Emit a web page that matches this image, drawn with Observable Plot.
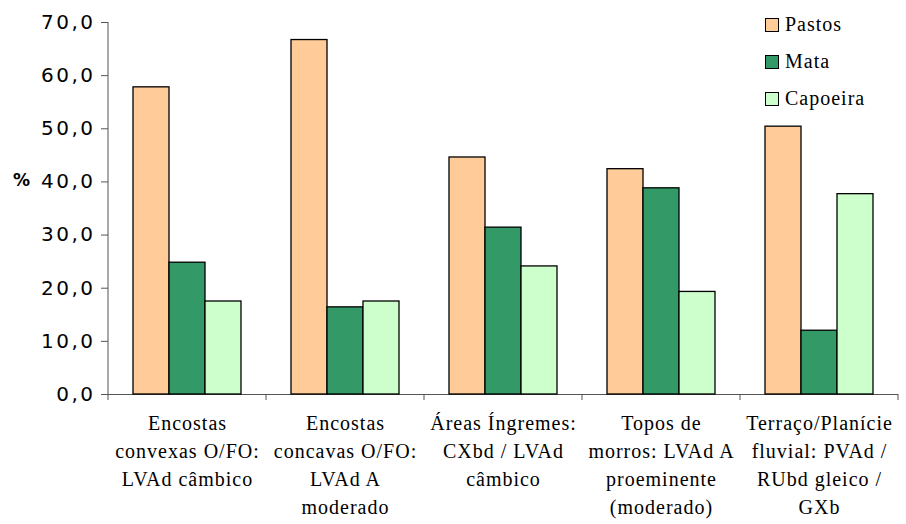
<!DOCTYPE html>
<html><head><meta charset="utf-8">
<script src="https://cdn.jsdelivr.net/npm/d3@7"></script>
<script src="https://cdn.jsdelivr.net/npm/@observablehq/plot@0.6"></script>
<style>
body{margin:0;background:#fff;}
#wrap{position:relative;width:906px;height:524px;overflow:hidden;}
#wrap svg{position:absolute;left:0;top:0;}
.legend{position:absolute;left:765px;top:6px;font-family:"Liberation Serif",serif;font-size:20px;letter-spacing:1px;color:#000;}
.legend .row{display:flex;align-items:center;height:37px;}
.legend .sw{width:12px;height:12px;border:1.3px solid #000;margin-right:6px;}
.ylab{position:absolute;left:13px;top:170px;font-family:"DejaVu Sans",sans-serif;font-weight:bold;font-size:17px;}
</style></head><body><div id="wrap"></div>
<script>
const groups = [
  "Encostas\nconvexas O/FO:\nLVAd câmbico",
  "Encostas\nconcavas O/FO:\nLVAd A\nmoderado",
  "Áreas Íngremes:\nCXbd / LVAd\ncâmbico",
  "Topos de\nmorros: LVAd A\nproeminente\n(moderado)",
  "Terraço/Planície\nfluvial: PVAd /\nRUbd gleico /\nGXb"
];
const series = ["Pastos", "Mata", "Capoeira"];
const pastos = [57.8, 66.7, 44.6, 42.4, 50.4];
const mata = [24.8, 16.4, 31.4, 38.8, 12.0];
const capoeira = [17.5, 17.5, 24.1, 19.3, 37.7];
const colors = ["#FFCC99", "#339966", "#CCFFCC"];
const yTicks = [0, 10, 20, 30, 40, 50, 60, 70];
const yLabel = "%";

const valuesBySeries = [pastos, mata, capoeira];
const data = groups.flatMap((g, i) => series.map((s, j) => ({group: g, series: s, value: valuesBySeries[j][i]})));
const fmt = d => d3.format(".1f")(d).replace(".", ",");
const axisColor = "#555";

const plot = Plot.plot({
  width: 906, height: 524,
  marginLeft: 108, marginRight: 8, marginTop: 22, marginBottom: 130,
  style: {background: "transparent", fontFamily: "DejaVu Sans, sans-serif", color: "#000", overflow: "visible"},
  fx: {domain: groups, paddingInner: 0, paddingOuter: 0, axis: null},
  x: {domain: series, paddingInner: 0, paddingOuter: 0.694, axis: null},
  y: {domain: [0, 70], axis: null},
  color: {domain: series, range: colors},
  marks: [
    Plot.ruleY([0], {stroke: axisColor, strokeWidth: 1}),
    Plot.barY(data, {fx: "group", x: "series", y: "value", fill: "series", stroke: "#000", strokeWidth: 1.3}),
    Plot.axisY({ticks: yTicks, tickFormat: fmt, tickSize: 7, tickPadding: 6, fontSize: 20, stroke: axisColor, fill: "#000", label: null}),
    Plot.text(groups, {fx: d => d, text: d => d, frameAnchor: "bottom", lineAnchor: "top", dy: 16, lineHeight: 1.4,
      fontSize: 20, fontFamily: "Liberation Serif, serif", fill: "#000"})
  ]
});

const wrap = document.getElementById("wrap");
wrap.appendChild(plot);

const svg = d3.select(plot);
// letter spacing similar to the reference rendering
svg.selectAll("text").each(function() {
  const ff = this.getAttribute("font-family") || (this.parentNode && this.parentNode.getAttribute && this.parentNode.getAttribute("font-family")) || "";
  if (ff.includes("Liberation Serif")) this.style.letterSpacing = "1px";
});
svg.selectAll("g[font-family*='Liberation Serif'] text").style("letter-spacing", "1px");
svg.selectAll("[aria-label='y-axis tick label'] text").style("letter-spacing", "2.5px");

// category boundary ticks and y-axis line from the plot's own scales
const fx = plot.scale("fx"), y = plot.scale("y");
const bounds = groups.map(g => fx.apply(g)).concat([fx.apply(groups[groups.length - 1]) + fx.bandwidth]);
svg.append("g").selectAll("line").data(bounds).join("line")
  .attr("x1", d => d).attr("x2", d => d)
  .attr("y1", y.apply(0)).attr("y2", y.apply(0) + 6)
  .attr("stroke", axisColor);
svg.append("line")
  .attr("x1", bounds[0]).attr("x2", bounds[0])
  .attr("y1", y.apply(0)).attr("y2", y.apply(70))
  .attr("stroke", axisColor);

// legend
const legend = document.createElement("div");
legend.className = "legend";
series.forEach((s, j) => {
  const row = document.createElement("div");
  row.className = "row";
  row.innerHTML = `<div class="sw" style="background:${colors[j]}"></div><span>${s}</span>`;
  legend.appendChild(row);
});
wrap.appendChild(legend);

const yl = document.createElement("div");
yl.className = "ylab";
yl.textContent = yLabel;
wrap.appendChild(yl);
</script>
</body></html>
